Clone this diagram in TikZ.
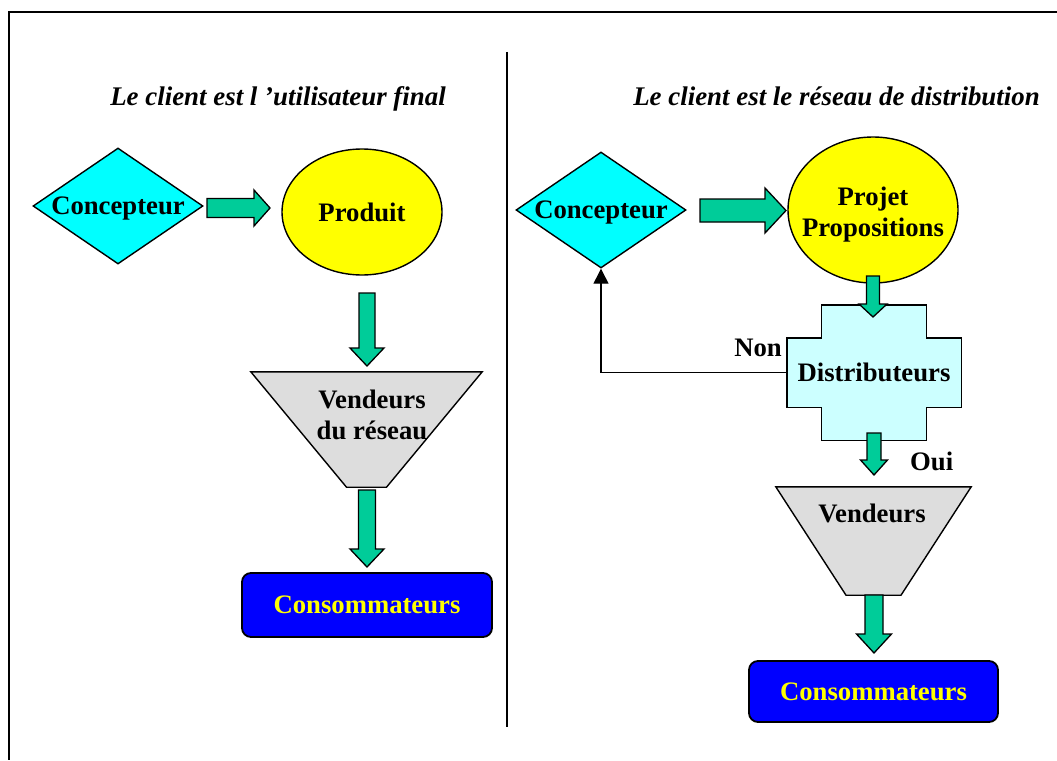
\documentclass[tikz,border=0pt]{standalone}
\usepackage{fontspec}
\setmainfont{Liberation Serif}
\usetikzlibrary{shapes.geometric,arrows.meta,calc,backgrounds}

\definecolor{cyanfill}{RGB}{0,255,255}
\definecolor{yellowfill}{RGB}{255,255,0}
\definecolor{arrowgreen}{RGB}{0,204,153}
\definecolor{funnelgray}{RGB}{221,221,221}
\definecolor{paleblue}{RGB}{204,255,255}
\definecolor{boxblue}{RGB}{0,0,255}

% wide block arrow pointing right: from, to, shaft half-width, head half-width, head length
\newcommand\rightblock[5]{\draw[blockarrow] let \p1=(#1),\p2=(#2) in
  (\x1,\y1+#3pt) -- (\x2-#5pt,\y1+#3pt) -- (\x2-#5pt,\y1+#4pt) -- (\x2,\y1)
  -- (\x2-#5pt,\y1-#4pt) -- (\x2-#5pt,\y1-#3pt) -- (\x1,\y1-#3pt) -- cycle;}
% wide block arrow pointing down: from, to, shaft half-width, head half-width, head length
\newcommand\downblock[5]{\draw[blockarrow] let \p1=(#1),\p2=(#2) in
  (\x1-#3pt,\y1) -- (\x1-#3pt,\y2+#5pt) -- (\x1-#4pt,\y2+#5pt) -- (\x1,\y2)
  -- (\x1+#4pt,\y2+#5pt) -- (\x1+#3pt,\y2+#5pt) -- (\x1+#3pt,\y1) -- cycle;}

\begin{document}
\begin{tikzpicture}[x=1pt,y=-1pt,
  lbl/.style={font=\fontsize{26.7}{31}\selectfont\bfseries},
  shapeline/.style={draw=black,line width=1.4pt},
  diam/.style={diamond,shapeline,fill=cyanfill,aspect=1.47,inner sep=0pt,
    minimum width=170pt,minimum height=116pt,lbl,text depth=0pt},
  oval/.style={ellipse,shapeline,fill=yellowfill,inner sep=0pt},
  holder/.style={rectangle,inner sep=0pt},
  endbox/.style={rectangle,rounded corners=9pt,draw=black,line width=1.8pt,
    fill=boxblue,text=yellowfill,lbl,text depth=0pt,inner sep=0pt},
  blockarrow/.style={draw=black,line width=1.3pt,fill=arrowgreen,line join=miter},
  feedback/.style={draw=black,line width=1.3pt,-{Triangle[length=15pt,width=15pt]}},
  title/.style={font=\fontsize{26.9}{31}\selectfont\bfseries\itshape,anchor=base,inner sep=0pt},
]
\useasboundingbox (0,0) rectangle (1057,760);

% frame and divider
\draw[line width=2pt] (1057,12) -- (9,12) -- (9,760);
\draw[line width=1.8pt] (507,52) -- (507,727);

% titles
\node[title] (t1) at (278,105) {Le client est l 'utilisateur final};
\node[title] (t2) at (836.5,105) {Le client est le réseau de distribution};

% ---- left chain
\node[diam] (conc1) at (118,206) {Concepteur};
\node[oval,minimum width=160pt,minimum height=126pt,lbl,text depth=0pt] (prod) at (362,212) {Produit};
\node[holder,minimum width=231pt,minimum height=115pt] (vend1) at (366.5,429.5) {};
\node[lbl,align=center] (vend1t) at (372,415) {Vendeurs\\du réseau};
\node[endbox,minimum width=250pt,minimum height=64pt] (cons1) at (367,605) {Consommateurs};

% ---- right chain
\node[diam] (conc2) at (601,210) {Concepteur};
\node[oval,minimum width=170pt,minimum height=146pt] (proj) at (873,210) {};
\node[lbl,align=center] (projt) at (873,215) {Projet\\Propositions};
\node[holder,minimum width=174pt,minimum height=135pt,lbl,text depth=0pt] (dist) at (874,372.5) {Distributeurs};
\node[holder,minimum width=195pt,minimum height=108pt] (vend2) at (873.5,541) {};
\node[lbl,anchor=base] (vend2t) at (872,522) {Vendeurs};
\node[endbox,minimum width=249pt,minimum height=61pt] (cons2) at (873.5,691.5) {Consommateurs};

\node[lbl,anchor=base east,inner sep=0pt] (non) at (782,356) {Non};
\node[lbl,anchor=base west,inner sep=0pt] (oui) at (910,470) {Oui};

% funnels and the cross-shaped distributor block
\begin{scope}[on background layer]
  \path[shapeline,fill=funnelgray] (vend1.north west) -- (vend1.north east)
    -- ($(vend1.south)+(20,0)$) -- ($(vend1.south)+(-20,0)$) -- cycle;
  \path[shapeline,fill=funnelgray] (vend2.north west) -- (vend2.north east)
    -- ($(vend2.south)+(27.5,0)$) -- ($(vend2.south)+(-27.5,0)$) -- cycle;
  \path[shapeline,fill=paleblue]
    ($(dist.north west)+(34.5,0)$) -- ($(dist.north east)+(-34.5,0)$)
    -- ($(dist.north east)+(-34.5,33)$) -- ($(dist.north east)+(0,33)$)
    -- ($(dist.south east)+(0,-33)$) -- ($(dist.south east)+(-34.5,-33)$)
    -- ($(dist.south east)+(-34.5,0)$) -- ($(dist.south west)+(34.5,0)$)
    -- ($(dist.south west)+(34.5,-33)$) -- ($(dist.south west)+(0,-33)$)
    -- ($(dist.north west)+(0,33)$) -- ($(dist.north west)+(34.5,33)$) -- cycle;
\end{scope}

% ends of the block arrows
\coordinate (a1s) at (207,208);   \coordinate (a1e) at (270,208);
\coordinate (a2s) at (367,293);   \coordinate (a2e) at (367,366);
\coordinate (a3s) at (367,490);   \coordinate (a3e) at (367,567);
\coordinate (a4s) at (700,210.5); \coordinate (a4e) at (786,210.5);
\coordinate (a5s) at (873,276);   \coordinate (a5e) at (873,317);
\coordinate (a6s) at (874,433);   \coordinate (a6e) at (874,475);
\coordinate (a7s) at (874,595);   \coordinate (a7e) at (874,653);

\rightblock{a1s}{a1e}{9.5}{18}{16}
\downblock{a2s}{a2e}{8}{17}{18}
\downblock{a3s}{a3e}{8.5}{17}{18}
\rightblock{a4s}{a4e}{11.5}{22.5}{21}
\downblock{a5s}{a5e}{6.5}{14}{13}
\downblock{a6s}{a6e}{7}{13.5}{15}
\downblock{a7s}{a7e}{9}{17.5}{19}

% refusal loops back to the designer
\draw[feedback] (dist.west) -| (conc2.south);
\end{tikzpicture}
\end{document}
